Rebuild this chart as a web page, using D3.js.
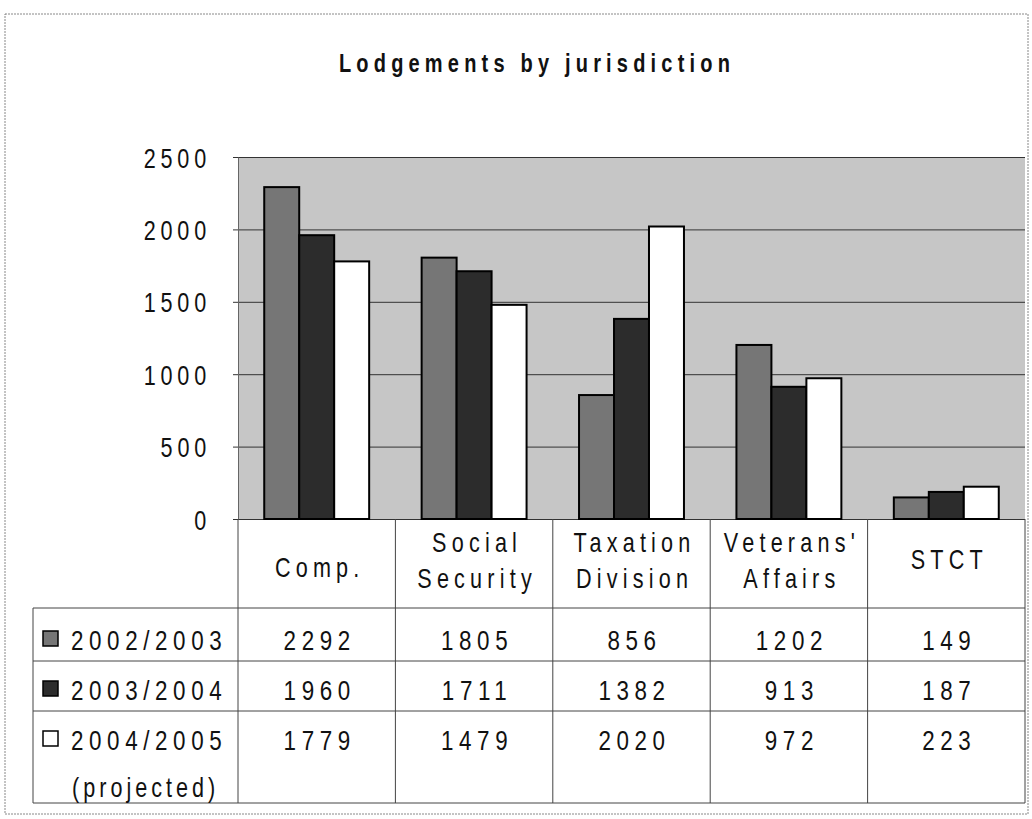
<!DOCTYPE html>
<html>
<head>
<meta charset="utf-8">
<title>Lodgements by jurisdiction</title>
<script src="https://cdn.jsdelivr.net/npm/d3@7/dist/d3.min.js"></script>
<style>
	body { margin:0; background:#fff; }
	text { font-family:"Liberation Sans Narrow","Arial Narrow","Liberation Sans",Arial,sans-serif; fill:#111; }
</style>
</head>
<body>
<div id="chart"></div>
<script>
// categories (header lines) and series
var categories = ["Comp.", "Social Security", "Taxation Division", "Veterans' Affairs", "STCT"];
var catLines = [["Comp."], ["Social", "Security"], ["Taxation", "Division"], ["Veterans'", "Affairs"], ["STCT"]];
var seriesNames = ["2002/2003", "2003/2004", "2004/2005"];
var values2002 = [2292, 1805, 856, 1202, 149];
var values2003 = [1960, 1711, 1382, 913, 187];
var values2004 = [1779, 1479, 2020, 972, 223];
var yTicks = [0, 500, 1000, 1500, 2000, 2500];

var series = [values2002, values2003, values2004];
var fills = ["#767676", "#2c2c2c", "#ffffff"];

var W = 1032, H = 819;
var plotL = 238, plotR = 1025, plotT = 157, plotB = 519;
var squeeze = 0.8; // the scanned font is a narrow one

var svg = d3.select("#chart").append("svg")
	.attr("width", W)
	.attr("height", H);

// squeezed text helper
function label(g, x, y, str, size, spacing, anchor, weight){
	return g.append("text")
		.attr("transform", "translate(" + x + "," + y + ") scale(" + squeeze + ",1)")
		.attr("text-anchor", anchor || "start")
		.attr("font-size", size + "px")
		.attr("font-weight", weight || "normal")
		.attr("letter-spacing", spacing + "px")
		.text(str);
}

// outer frame
svg.append("rect")
	.attr("x", 5).attr("y", 14)
	.attr("width", 1023).attr("height", 800)
	.attr("fill", "none")
	.attr("stroke", "#888")
	.attr("stroke-dasharray", "2,1");

// title
label(svg, 537, 72, "Lodgements by jurisdiction", 25, 6.5, "middle", "bold");

// scales
var x = d3.scaleBand().domain(categories).range([plotL, plotR]).padding(0);
var xs = d3.scaleBand().domain(d3.range(series.length)).range([0, x.bandwidth()]).paddingInner(0).paddingOuter(0.75);
var y = d3.scaleLinear().domain([0, 2500]).range([plotB, plotT]);

// plot background
svg.append("rect")
	.attr("x", plotL).attr("y", plotT)
	.attr("width", plotR - plotL).attr("height", plotB - plotT)
	.attr("fill", "#c6c6c6");

// gridlines
var grid = svg.append("g")
	.attr("transform", "translate(" + plotL + ",0)")
	.call(d3.axisLeft(y).tickValues(yTicks).tickSize(-(plotR - plotL)).tickFormat(""));
grid.select(".domain").remove();
grid.selectAll("line").attr("stroke", "#333").attr("stroke-width", 1);

// y axis
var yAxis = svg.append("g")
	.attr("transform", "translate(" + plotL + ",0)")
	.call(d3.axisLeft(y).tickValues(yTicks).tickFormat(d3.format("d")).tickSize(5).tickSizeOuter(0).tickPadding(22));
yAxis.select(".domain").attr("stroke", "#666");
yAxis.selectAll("line").attr("stroke", "#333");
yAxis.selectAll("text")
	.attr("font-family", null)
	.attr("font-size", "27px")
	.attr("letter-spacing", "6px")
	.attr("fill", "#111")
	.attr("dy", null)
	.attr("transform", function(){ return "translate(" + d3.select(this).attr("x") + ",10) scale(" + squeeze + ",1)"; })
	.attr("x", 0);

// bars
series.forEach(function(vals, si){
	svg.append("g").selectAll("rect")
		.data(vals)
		.enter()
		.append("rect")
		.attr("x", function(d, i){ return x(categories[i]) + xs(si); })
		.attr("y", function(d){ return y(d); })
		.attr("width", xs.bandwidth())
		.attr("height", function(d){ return y(0) - y(d); })
		.attr("fill", fills[si])
		.attr("stroke", "#000")
		.attr("stroke-width", 2);
});

// data table
var rowY = [plotB, 608, 661, 711, 803];
var legendLeft = 33;
var table = svg.append("g").attr("stroke", "#444").attr("stroke-width", 1);

categories.forEach(function(c){
	table.append("line")
		.attr("x1", x(c)).attr("x2", x(c))
		.attr("y1", rowY[0]).attr("y2", rowY[4]);
});
table.append("line")
	.attr("x1", plotR).attr("x2", plotR)
	.attr("y1", rowY[0]).attr("y2", rowY[4]);
table.append("line")
	.attr("x1", legendLeft).attr("x2", legendLeft)
	.attr("y1", rowY[1]).attr("y2", rowY[4]);
rowY.slice(1).forEach(function(ry){
	table.append("line")
		.attr("x1", legendLeft).attr("x2", plotR)
		.attr("y1", ry).attr("y2", ry);
});

// header text
catLines.forEach(function(lines, i){
	var cx = x(categories[i]) + x.bandwidth() / 2 + 3;
	var base = lines.length === 1 ? (i === 4 ? 569 : 577) : 552;
	lines.forEach(function(l, j){
		label(svg, cx, base + j * 36, l, 27, 6.5, "middle");
	});
});

// value cells
var rowBase = [650, 700, 750];
series.forEach(function(vals, si){
	vals.forEach(function(v, i){
		label(svg, x(categories[i]) + x.bandwidth() / 2 + 3, rowBase[si], v, 28, 7, "middle");
	});
});

// legend keys + labels
seriesNames.forEach(function(name, si){
	svg.append("rect")
		.attr("x", 43).attr("y", rowBase[si] - 19)
		.attr("width", 15).attr("height", 15)
		.attr("fill", fills[si])
		.attr("stroke", "#000")
		.attr("stroke-width", 1.5);
	label(svg, 71, rowBase[si], name, 28, 7);
});
label(svg, 72, 797, "(projected)", 27, 5);
</script>
</body>
</html>
